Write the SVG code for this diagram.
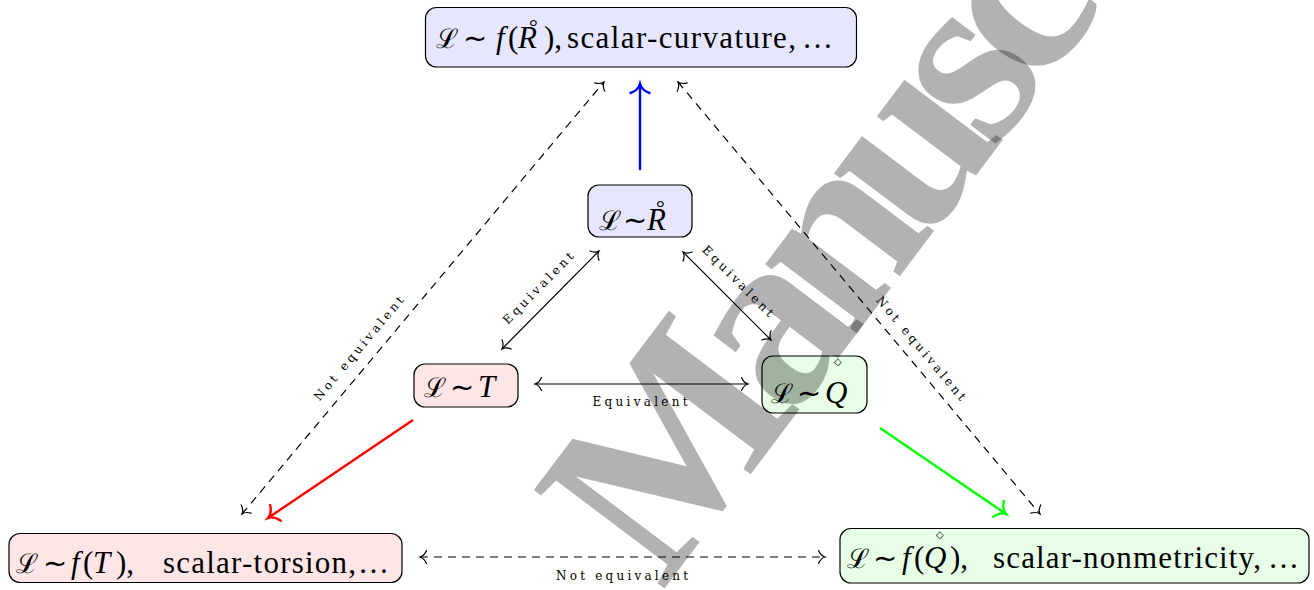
<svg xmlns="http://www.w3.org/2000/svg" width="1314" height="590" viewBox="0 0 1314 590">
<defs>
<style>
.nb{stroke:#000;stroke-width:1.2}
.fb{fill:#e6e6ff}.fr{fill:#ffe6e6}.fg{fill:#e6ffe6}
.m{font-family:"Liberation Serif","DejaVu Serif",serif;font-size:31px;fill:#000}
.i{font-style:italic}
.cal{font-size:27px}
.sim{font-family:"DejaVu Sans",sans-serif;font-size:29px}
.ring{font-family:"Liberation Serif",serif;font-size:22px}
.dia{font-family:"DejaVu Sans",sans-serif;font-size:10px}
.lbl{font-family:"DejaVu Serif","Liberation Serif",serif;font-size:12px;fill:#000}
.c{stroke:#000;stroke-width:1.2;fill:none}
.d{stroke-dasharray:8 6}
.wm{font-family:"Liberation Serif","DejaVu Serif",serif;font-size:250px;font-weight:bold;letter-spacing:-22px;fill:#000;fill-opacity:0.3}
</style>
<marker id="ak" markerUnits="userSpaceOnUse" viewBox="-12 -12 24 24" markerWidth="24" markerHeight="24" refX="0" refY="0" orient="auto-start-reverse" overflow="visible">
<path d="M-6.5,-6.5 C-5,-2.8 -2,-0.6 0,0 C-2,0.6 -5,2.8 -6.5,6.5" fill="none" stroke="#000" stroke-width="1.2" stroke-linecap="round"/>
</marker>
<marker id="ab" markerUnits="userSpaceOnUse" viewBox="-14 -14 28 28" markerWidth="28" markerHeight="28" refX="0" refY="0" orient="auto" overflow="visible">
<path d="M-9,-9.5 C-7,-4 -3,-0.8 0,0 C-3,0.8 -7,4 -9,9.5" fill="none" stroke="#0000ff" stroke-width="2.4" stroke-linecap="round"/>
</marker>
<marker id="ar" markerUnits="userSpaceOnUse" viewBox="-14 -14 28 28" markerWidth="28" markerHeight="28" refX="0" refY="0" orient="auto" overflow="visible">
<path d="M-9,-9.5 C-7,-4 -3,-0.8 0,0 C-3,0.8 -7,4 -9,9.5" fill="none" stroke="#ff0000" stroke-width="2.4" stroke-linecap="round"/>
</marker>
<marker id="ag" markerUnits="userSpaceOnUse" viewBox="-14 -14 28 28" markerWidth="28" markerHeight="28" refX="0" refY="0" orient="auto" overflow="visible">
<path d="M-9,-9.5 C-7,-4 -3,-0.8 0,0 C-3,0.8 -7,4 -9,9.5" fill="none" stroke="#00ff00" stroke-width="2.4" stroke-linecap="round"/>
</marker>
</defs>
<rect width="1314" height="590" fill="#fff"/>

<g id="connectors">
<line x1="640" y1="170" x2="640" y2="84" stroke="#0000ff" stroke-width="2.4" marker-end="url(#ab)"/>
<line x1="413" y1="420" x2="268" y2="518" stroke="#ff0000" stroke-width="2.4" marker-end="url(#ar)"/>
<line x1="880" y1="428" x2="1006" y2="514" stroke="#00ff00" stroke-width="2.4" marker-end="url(#ag)"/>
<line class="c d" x1="242" y1="514" x2="604" y2="82" marker-start="url(#ak)" marker-end="url(#ak)"/>
<line class="c d" x1="678" y1="82" x2="1040" y2="514" marker-start="url(#ak)" marker-end="url(#ak)"/>
<line class="c d" x1="420" y1="557" x2="825" y2="557" marker-start="url(#ak)" marker-end="url(#ak)"/>
<line class="c" x1="502" y1="349" x2="599" y2="251" marker-start="url(#ak)" marker-end="url(#ak)"/>
<line class="c" x1="683" y1="252" x2="771" y2="340" marker-start="url(#ak)" marker-end="url(#ak)"/>
<line class="c" x1="535" y1="384" x2="748" y2="384" marker-start="url(#ak)" marker-end="url(#ak)"/>
<text class="lbl" transform="translate(362,351) rotate(-50)" text-anchor="middle" textLength="132" lengthAdjust="spacing">Not equivalent</text>
<text class="lbl" transform="translate(918,351) rotate(50)" text-anchor="middle" textLength="132" lengthAdjust="spacing">Not equivalent</text>
<text class="lbl" x="622" y="580" text-anchor="middle" textLength="132" lengthAdjust="spacing">Not equivalent</text>
<text class="lbl" transform="translate(541,291) rotate(-45.5)" text-anchor="middle" textLength="95" lengthAdjust="spacing">Equivalent</text>
<text class="lbl" transform="translate(735,284) rotate(45)" text-anchor="middle" textLength="95" lengthAdjust="spacing">Equivalent</text>
<text class="lbl" x="640" y="406" text-anchor="middle" textLength="95" lengthAdjust="spacing">Equivalent</text>
</g>

<g id="node-fR">
<rect class="nb fb" x="425.5" y="7.5" width="431" height="59.5" rx="11"/>
<text class="m" y="48"><tspan x="436" class="cal">ℒ</tspan><tspan x="463" class="sim">∼</tspan><tspan x="496" class="i">f</tspan><tspan x="508">(</tspan><tspan x="518" class="i">R</tspan><tspan x="529" dy="-14" class="ring">°</tspan><tspan x="544" dy="14">),</tspan></text>
<text class="m" x="567" y="48" textLength="229" lengthAdjust="spacing">scalar-curvature,</text>
<text class="m" x="802" y="48">…</text>
</g>

<g id="node-R">
<rect class="nb fb" x="588" y="185" width="104" height="52" rx="11"/>
<text class="m" y="230"><tspan x="599" class="cal">ℒ</tspan><tspan x="623" class="sim">∼</tspan><tspan x="647" class="i">R</tspan><tspan x="656" dy="-15" class="ring">°</tspan></text>
</g>

<g id="node-T">
<rect class="nb fr" x="414" y="364" width="104" height="43" rx="11"/>
<text class="m" y="397"><tspan x="424" class="cal">ℒ</tspan><tspan x="450" class="sim">∼</tspan><tspan x="478" class="i">T</tspan></text>
</g>

<g id="node-Q">
<rect class="nb fg" x="762" y="356" width="105" height="57" rx="11"/>
<text class="m" y="403"><tspan x="771" class="cal">ℒ</tspan><tspan x="797" class="sim">∼</tspan><tspan x="825" class="i">Q</tspan><tspan x="834" dy="-38" class="dia">◇</tspan></text>
</g>

<g id="node-fT">
<rect class="nb fr" x="9" y="533.5" width="393" height="49" rx="11"/>
<text class="m" y="573"><tspan x="16" class="cal">ℒ</tspan><tspan x="43" class="sim">∼</tspan><tspan x="71" class="i">f</tspan><tspan x="83">(</tspan><tspan x="93" class="i">T</tspan><tspan x="116">),</tspan></text>
<text class="m" x="163" y="573" textLength="193" lengthAdjust="spacing">scalar-torsion,</text>
<text class="m" x="358" y="573">…</text>
</g>

<g id="node-fQ">
<rect class="nb fg" x="840" y="528.5" width="469" height="54.5" rx="11"/>
<text class="m" y="568"><tspan x="847" class="cal">ℒ</tspan><tspan x="873" class="sim">∼</tspan><tspan x="902" class="i">f</tspan><tspan x="914">(</tspan><tspan x="924" class="i">Q</tspan><tspan x="936" dy="-30" class="dia">◇</tspan><tspan x="950" dy="30">),</tspan></text>
<text class="m" x="993" y="568" textLength="268" lengthAdjust="spacing">scalar-nonmetricity,</text>
<text class="m" x="1268" y="568">…</text>
</g>

<text class="wm" transform="translate(662,592) rotate(-53)">Manusc</text>
</svg>
